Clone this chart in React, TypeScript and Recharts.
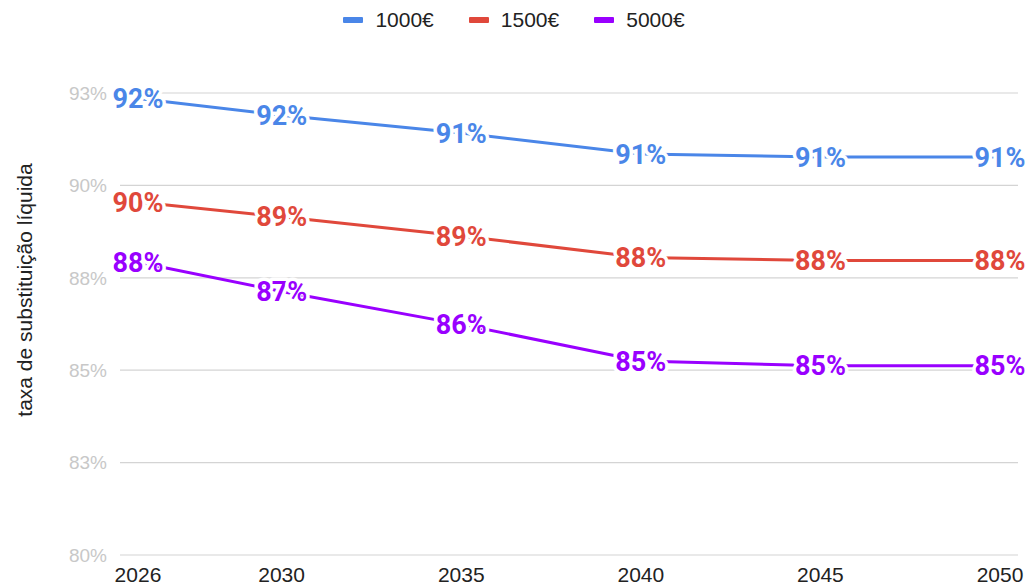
import React from 'react';
import { LineChart, Line, XAxis, YAxis, CartesianGrid, LabelList } from 'recharts';

const years = [2026, 2030, 2035, 2040, 2045, 2050];
const s1000 = [92.35, 91.9, 91.42, 90.85, 90.77, 90.77];
const s1500 = [89.55, 89.15, 88.63, 88.05, 87.97, 87.97];
const s5000 = [87.92, 87.13, 86.24, 85.25, 85.12, 85.12];
const yTicks = [80, 82.5, 85, 87.5, 90, 92.5];
const seriesKeys = ['a', 'b', 'c'];
const seriesNames = ['1000€', '1500€', '5000€'];
const seriesColors = ['#4a86e8', '#e0483b', '#9900ff'];
const yTitle = 'taxa de substituição líquida';

const data = years.map((yr, i) => ({ year: yr, a: s1000[i], b: s1500[i], c: s5000[i] }));

const makeLabel = (color: string) => (props: any) => {
  const { x, y, value } = props;
  return (
    <text
      x={x}
      y={y}
      dy="0.355em"
      textAnchor="middle"
      fill={color}
      stroke="#ffffff"
      strokeWidth={7}
      strokeLinejoin="round"
      paintOrder="stroke"
      fontFamily="Roboto, 'Noto Sans', sans-serif"
      fontWeight={700}
      fontSize={27}
    >
      {Math.round(value)}%
    </text>
  );
};

const YTitle = () => (
  <text
    x={24}
    y={290}
    transform="rotate(-90 24 290)"
    textAnchor="middle"
    dominantBaseline="central"
    fill="#222"
    fontFamily="'Liberation Sans', Arial, sans-serif"
    fontSize={21}
  >
    {yTitle}
  </text>
);

export default function App() {
  return (
    <div style={{ position: 'absolute', left: 0, top: 0, width: 1028, height: 585, background: '#fff', overflow: 'hidden' }}>
      <div
        style={{
          position: 'absolute',
          left: 0,
          top: 8,
          width: 1028,
          height: 24,
          display: 'flex',
          justifyContent: 'center',
          alignItems: 'center',
          gap: 35,
          fontFamily: "'Liberation Sans', Arial, sans-serif",
          fontSize: 21,
          color: '#222',
        }}
      >
        {seriesNames.map((n, i) => (
          <div key={n} style={{ display: 'flex', alignItems: 'center' }}>
            <span style={{ display: 'inline-block', width: 20, height: 6, background: seriesColors[i], marginRight: 12, borderRadius: 1 }} />
            <span>{n}</span>
          </div>
        ))}
      </div>
      <LineChart width={1028} height={585} data={data} margin={{ top: 93, right: 10, left: 0, bottom: 0 }}>
        <CartesianGrid vertical={false} stroke="#d4d4d4" strokeWidth={1.2} />
        <XAxis
          dataKey="year"
          type="number"
          domain={[2025.5, 2050.5]}
          ticks={years}
          axisLine={false}
          tickLine={false}
          tickSize={0}
          tickMargin={12}
          height={30}
          interval={0}
          tick={{ fill: '#222', fontSize: 21, fontFamily: "'Liberation Sans', Arial, sans-serif" }}
        />
        <YAxis
          type="number"
          domain={[80, 92.5]}
          ticks={yTicks}
          width={120}
          axisLine={false}
          tickLine={false}
          tickSize={0}
          tickMargin={13}
          interval={0}
          tickFormatter={(v: number) => `${Math.round(v)}%`}
          tick={{ fill: '#c8c8c8', fontSize: 19, fontFamily: "'Liberation Sans', Arial, sans-serif" }}
          label={<YTitle />}
        />
        {seriesKeys.map((k, i) => (
          <Line
            key={k}
            dataKey={k}
            name={seriesNames[i]}
            type="linear"
            stroke={seriesColors[i]}
            strokeWidth={3}
            dot={false}
            activeDot={false}
            isAnimationActive={false}
          >
            <LabelList dataKey={k} content={makeLabel(seriesColors[i])} />
          </Line>
        ))}
      </LineChart>
    </div>
  );
}
